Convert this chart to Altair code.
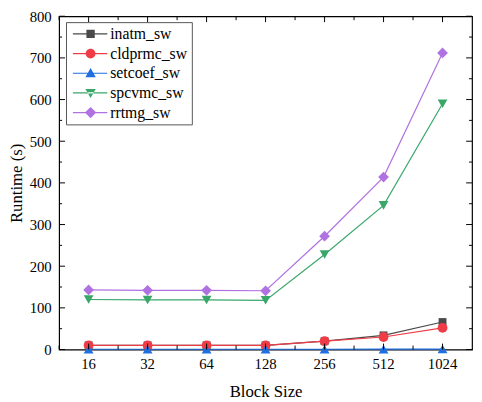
import altair as alt
import pandas as pd

blocks = ["16", "32", "64", "128", "256", "512", "1024"]
series = ["inatm_sw", "cldprmc_sw", "setcoef_sw", "spcvmc_sw", "rrtmg_sw"]
inatm = [10, 10, 10, 10, 20, 34, 66]
cldprmc = [10, 10, 10, 10, 20, 30, 52]
setcoef = [0.6, 0.6, 0.6, 0.6, 0.7, 0.8, 1.0]
spcvmc = [120, 119, 119, 118, 228, 346, 590]
rrtmg = [143, 142, 142, 141, 272, 414, 712]
colors = ["#4a4a4a", "#f03c46", "#1f6fe0", "#3aa76a", "#b072e0"]
shapes = ["square", "circle", "triangle-up", "triangle-down", "diamond"]
y_major = [0, 100, 200, 300, 400, 500, 600, 700, 800]
y_minor = [50, 150, 250, 350, 450, 550, 650, 750]

values = [inatm, cldprmc, setcoef, spcvmc, rrtmg]
rows = []
for s, vals in zip(series, values):
    for b, v in zip(blocks, vals):
        rows.append({"block": b, "series": s, "runtime": v})
df = pd.DataFrame(rows)

W, H = 420, 339
font = "Liberation Serif, Times New Roman, serif"

xs = alt.Scale(type="band", domain=blocks, paddingInner=0, paddingOuter=0)
ys = alt.Scale(domain=[0, 800], nice=False)

x_axis = alt.Axis(title="Block Size", domain=False, ticks=False, labelAngle=0,
                  labelPadding=7, titlePadding=13, grid=False)
y_axis = alt.Axis(title="Runtime (s)", values=y_major, domain=False, ticks=False,
                  grid=False, labelPadding=8, titlePadding=4)

X = alt.X("block:N", scale=xs, bandPosition=0.5, sort=blocks, axis=x_axis)
Y = alt.Y("runtime:Q", scale=ys, axis=y_axis)

color_scale = alt.Scale(domain=series, range=colors)

# legend glyphs: unit = 5px (symbolSize 100); line from -1 to 6 units, marker centred at 2.6
line_path = "M-1,-0.12H6V0.12H-1Z"
leg_shapes = [
    line_path + "M1.75,-0.85H3.45V0.85H1.75Z",
    line_path + "M3.6,0A1,1,0,1,1,1.6,0A1,1,0,1,1,3.6,0Z",
    line_path + "M2.6,-1.05L3.65,0.8L1.55,0.8Z",
    line_path + "M2.6,1.05L3.65,-0.8L1.55,-0.8Z",
    line_path + "M2.6,-1.15L3.75,0L2.6,1.15L1.45,0Z",
]

legend_layer = alt.Chart(df).mark_point(filled=True, size=0, strokeWidth=0, opacity=1).encode(
    x=X, y=Y,
    color=alt.Color("series:N", scale=color_scale, sort=series,
                    legend=alt.Legend(title=None, orient="none", legendX=7, legendY=6,
                                      symbolSize=100, symbolOpacity=1, symbolStrokeWidth=0,
                                      labelFont=font, labelFontSize=16, labelColor="black",
                                      labelOffset=25, rowPadding=4, padding=4,
                                      strokeColor="#555555", fillColor="white")),
    shape=alt.Shape("series:N", scale=alt.Scale(domain=series, range=leg_shapes), sort=series),
)

lines = alt.Chart(df).mark_line(strokeWidth=1.2).encode(
    x=X, y=Y,
    color=alt.Color("series:N", scale=color_scale, sort=series),
    detail="series:N",
)

point_layers = []
sizes = {"square": 64, "circle": 100, "triangle-up": 100, "triangle-down": 100, "diamond": 120}
for s, c, sh in zip(series, colors, shapes):
    point_layers.append(
        alt.Chart(df).transform_filter(alt.datum.series == s)
        .mark_point(shape=sh, filled=True, size=sizes[sh], opacity=1, color=c)
        .encode(x=X, y=Y)
    )

major_df = pd.DataFrame({"runtime": y_major})
minor_df = pd.DataFrame({"runtime": y_minor})

def yticks(d, length):
    left = alt.Chart(d).mark_rule(color="black", strokeWidth=1).encode(
        y=Y, x=alt.value(0), x2=alt.value(length))
    right = alt.Chart(d).mark_rule(color="black", strokeWidth=1).encode(
        y=Y, x=alt.value(W), x2=alt.value(W - length))
    return [left, right]

bdf = pd.DataFrame({"block": blocks})
def xticks(bp, length):
    xT = alt.X("block:N", scale=xs, bandPosition=bp, sort=blocks, axis=x_axis)
    top = alt.Chart(bdf).mark_rule(color="black", strokeWidth=1).encode(
        x=xT, y=alt.value(0), y2=alt.value(length))
    bottom = alt.Chart(bdf).mark_rule(color="black", strokeWidth=1).encode(
        x=xT, y=alt.value(H), y2=alt.value(H - length))
    return [top, bottom]

ticks = yticks(major_df, 6) + yticks(minor_df, 3) + xticks(0.5, 6) + xticks(0.0, 4)

chart = alt.layer(legend_layer, lines, *point_layers, *ticks).properties(
    width=W, height=H,
    background="white",
    autosize=alt.AutoSizeParams(type="none"),
    padding={"left": 52, "top": 5, "right": 2, "bottom": 50},
).configure(font=font).configure_view(stroke="black", strokeWidth=1.2).configure_axis(
    labelFont=font, titleFont=font, labelFontSize=15, titleFontSize=17,
    labelColor="black", titleColor="black", titleFontWeight="normal",
).configure_legend(labelFont=font)

chart.save("out.html", embed_options={"renderer": "svg", "actions": False})
